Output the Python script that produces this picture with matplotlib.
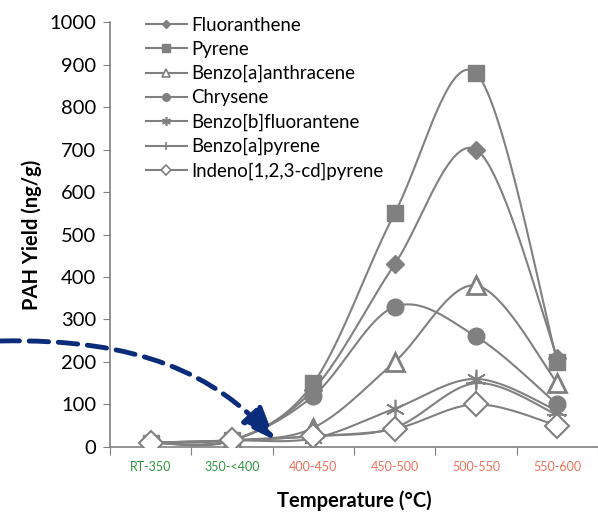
import matplotlib.pyplot as plt
from matplotlib.patches import FancyArrowPatch
from matplotlib.path import Path
import numpy as np

# Temperature bins and PAH yields (ng/g)
categories = ["RT-350", "350-<400", "400-450", "450-500", "500-550", "550-600"]
cat_colors = ["#2e9440", "#2e9440", "#f0705a", "#f0705a", "#f0705a", "#f0705a"]

fluoranthene = [10, 15, 135, 430, 700, 210]
pyrene = [10, 15, 150, 550, 880, 200]
benz_a_anth = [10, 15, 45, 200, 380, 150]
chrysene = [10, 15, 120, 330, 260, 100]
benzo_b_fl = [10, 15, 20, 90, 160, 85]
benzo_a_pyr = [10, 15, 25, 45, 150, 75]
indeno = [10, 15, 25, 42, 100, 50]

series = [
    ("Fluoranthene", fluoranthene, dict(marker="D", ms=9, mfc="#808080")),
    ("Pyrene", pyrene, dict(marker="s", ms=12, mfc="#808080")),
    ("Benzo[a]anthracene", benz_a_anth, dict(marker="^", ms=13, mfc="white", mew=2)),
    ("Chrysene", chrysene, dict(marker="o", ms=12, mfc="#808080")),
    ("Benzo[b]fluorantene", benzo_b_fl, dict(marker=(6, 2, 0), ms=14, mew=1.2)),
    ("Benzo[a]pyrene", benzo_a_pyr, dict(marker="+", ms=14, mew=1.2)),
    ("Indeno[1,2,3-cd]pyrene", indeno, dict(marker="D", ms=12, mfc="white", mew=1.5)),
]

plt.rcParams['font.family'] = ['Lato', 'DejaVu Sans']


def smooth(xs, ys, n=40):
    # Excel-like smoothed line (cardinal bezier)
    xs = np.asarray(xs, float)
    ys = np.asarray(ys, float)
    px, py = [], []
    for i in range(len(xs) - 1):
        x0, y0 = (xs[i - 1], ys[i - 1]) if i > 0 else (xs[i], ys[i])
        x3, y3 = (xs[i + 2], ys[i + 2]) if i + 2 < len(xs) else (xs[i + 1], ys[i + 1])
        x1, y1 = xs[i], ys[i]
        x2, y2 = xs[i + 1], ys[i + 1]
        c1x, c1y = x1 + (x2 - x0) / 6, y1 + (y2 - y0) / 6
        c2x, c2y = x2 - (x3 - x1) / 6, y2 - (y3 - y1) / 6
        t = np.linspace(0, 1, n)
        bx = (1-t)**3*x1 + 3*(1-t)**2*t*c1x + 3*(1-t)*t**2*c2x + t**3*x2
        by = (1-t)**3*y1 + 3*(1-t)**2*t*c1y + 3*(1-t)*t**2*c2y + t**3*y2
        px.extend(bx)
        py.extend(by)
    return px, py


fig = plt.figure(figsize=(5.98, 5.16), dpi=100)
ax = fig.add_axes([0.184, 0.134, 0.816, 0.823])

gray = "#808080"
x = np.arange(len(categories))
handles = []
for name, ys, style in series:
    sx, sy = smooth(x, ys)
    ax.plot(sx, sy, color=gray, lw=1.5, zorder=2)
    ax.plot(x, ys, ls="none", color=gray, mec=gray, zorder=3, **style)
    leg_style = dict(style)
    leg_style["ms"] = style["ms"] * 0.45
    leg_style["mew"] = min(style.get("mew", 1.0), 1.2)
    h, = ax.plot([], [], color=gray, lw=1.5, label=name, **leg_style)
    handles.append(h)

ax.set_xlim(-0.5, 5.45)
ax.set_ylim(0, 1000)
ax.set_yticks(range(0, 1001, 100))
ax.tick_params(axis="y", labelsize=14.5, length=5, color=gray, pad=5)
ax.set_xticks(np.arange(-0.5, 6, 1))
ax.set_xticklabels([])
ax.set_xticks(x, minor=True)
ax.set_xticklabels(categories, minor=True, fontsize=9)
for lbl, c in zip(ax.get_xticklabels(minor=True), cat_colors):
    lbl.set_color(c)
ax.tick_params(axis="x", which="major", length=6, color=gray)
ax.tick_params(axis="x", which="minor", length=0, pad=10)
for s in ["top", "right"]:
    ax.spines[s].set_visible(False)
for s in ["left", "bottom"]:
    ax.spines[s].set_color(gray)
    ax.spines[s].set_linewidth(1.2)

ax.set_ylabel("PAH Yield (ng/g)", fontsize=14.5, fontweight="bold", labelpad=5)
ax.set_xlabel("Temperature (°C)", fontsize=14.5, fontweight="bold", labelpad=13)

ax.legend(handles=handles, loc="upper left", bbox_to_anchor=(0.058, 1.03),
          frameon=False, fontsize=13.4, handlelength=2.2, labelspacing=0.38,
          handletextpad=0.25, borderaxespad=0)

# dashed arrow pointing at the low-temperature region (cubic curve, pixel coords)
W, H = 598.0, 516.0
pts = [(0, 341), (140, 338), (215, 375), (275, 440)]
arrow_path = Path([(px / W, 1 - py / H) for px, py in pts],
                  [Path.MOVETO, Path.CURVE4, Path.CURVE4, Path.CURVE4])
fig.patches.append(FancyArrowPatch(
    path=arrow_path, transform=fig.transFigure,
    arrowstyle="-|>,head_length=20,head_width=8",
    color="#0a2c7a", lw=3.5, linestyle=(0, (4, 2)), mutation_scale=1,
    clip_on=False))

fig.savefig("out.png", dpi=100)
